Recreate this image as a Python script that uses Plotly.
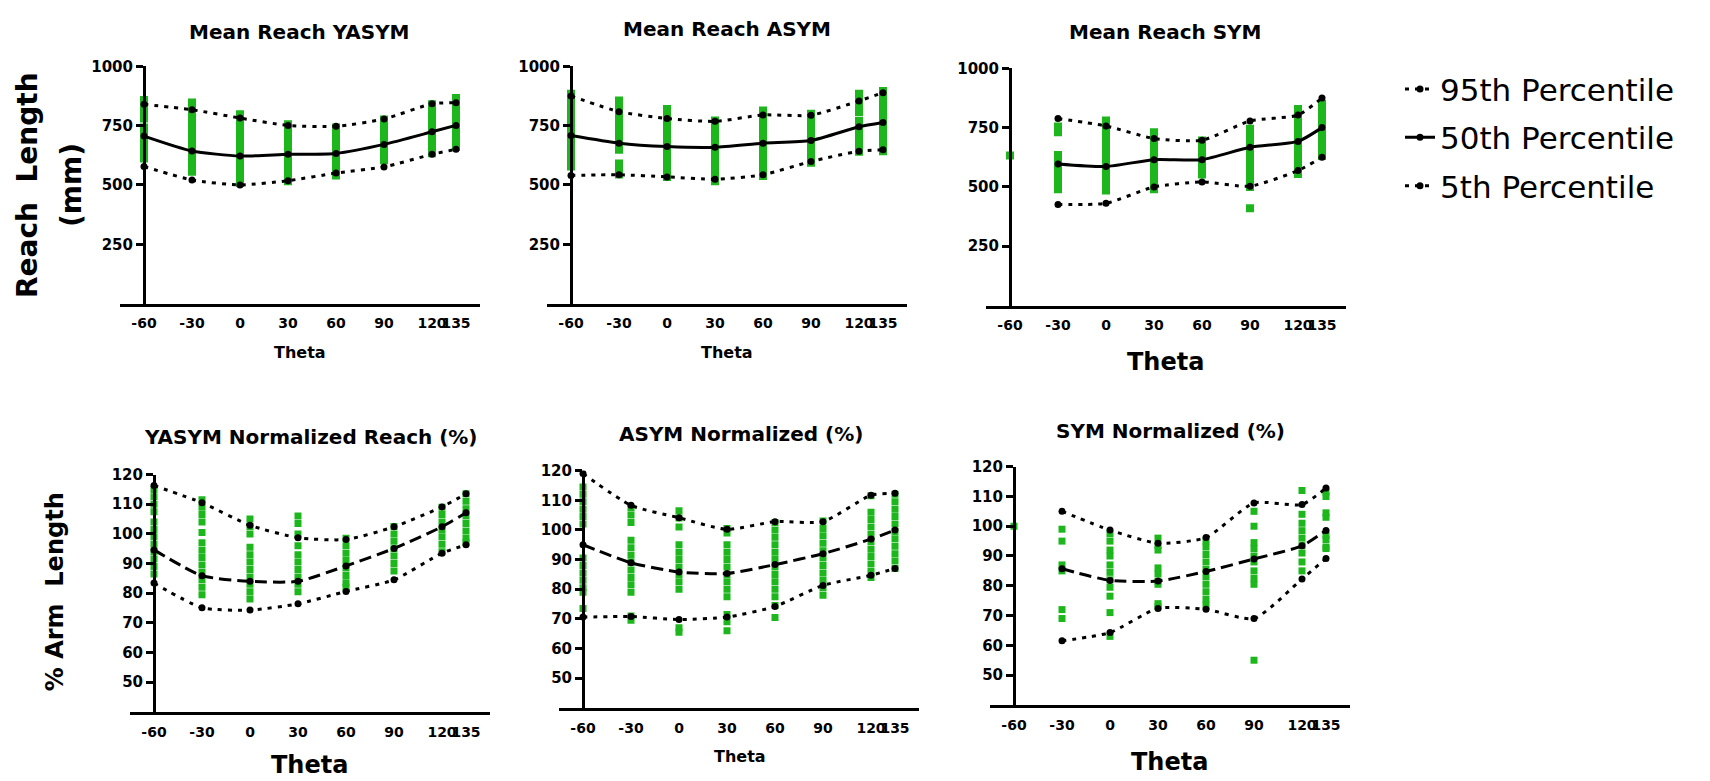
import plotly.graph_objects as go

W, H = 1710, 781

theta = [-60, -30, 0, 30, 60, 90, 120, 135]
theta_sym = [-30, 0, 30, 60, 90, 120, 135]
tick_labels = ["-60", "-30", "0", "30", "60", "90", "120", "135"]

# ---------- Mean reach (mm) ----------
yasym_p95 = [840, 817, 782, 751, 747, 778, 842, 847]
yasym_p50 = [706, 643, 622, 629, 633, 671, 724, 751]
yasym_p5 = [578, 521, 500, 518, 550, 576, 629, 650]

asym_p95 = [875, 809, 780, 768, 795, 794, 854, 889]
asym_p50 = [708, 676, 662, 659, 676, 687, 745, 763]
asym_p5 = [540, 543, 534, 524, 543, 599, 642, 648]

sym_p95 = [788, 757, 704, 697, 778, 803, 875]
sym_p50 = [597, 586, 615, 615, 667, 692, 750]
sym_p5 = [426, 431, 500, 521, 503, 569, 625]

yasym_pts = [
    [858, 832, 806, 780, 742, 716, 690, 664, 638, 612],
    [848, 822, 796, 770, 744, 712, 686, 660, 628, 602, 576, 556],
    [798, 772, 746, 716, 690, 664, 636, 610, 584, 558, 532, 508],
    [756, 730, 704, 676, 650, 624, 598, 572, 546, 516],
    [742, 716, 690, 664, 638, 612, 586, 560, 540],
    [776, 750, 724, 698, 672, 646, 620, 604],
    [840, 814, 788, 762, 736, 710, 684, 658, 634],
    [866, 840, 808, 788, 762, 736, 710, 684, 660],
]
asym_pts = [
    [884, 858, 832, 806, 780, 754, 728, 702, 676, 650, 624, 598, 578],
    [856, 830, 804, 778, 752, 726, 700, 674, 648, 590, 564, 544],
    [820, 794, 768, 742, 716, 690, 664, 638, 612, 586, 560, 534],
    [772, 746, 720, 694, 668, 642, 616, 590, 564, 538, 516],
    [814, 788, 762, 736, 710, 684, 658, 632, 606, 580, 554, 538],
    [800, 774, 748, 722, 696, 670, 644, 618, 594],
    [884, 858, 832, 806, 770, 744, 718, 692, 666, 640],
    [896, 870, 844, 818, 792, 766, 740, 714, 688, 662, 642],
]
sym_pts = [
    [632],
    [755, 730, 635, 610, 590, 565, 540, 515, 490],
    [780, 755, 730, 705, 680, 655, 630, 605, 580, 555, 530, 505, 485],
    [730, 705, 680, 655, 630, 605, 580, 555, 530, 505, 490],
    [696, 672, 648, 624, 600, 576, 552],
    [745, 720, 695, 670, 645, 620, 595, 570, 545, 520, 500, 410],
    [828, 803, 778, 753, 728, 703, 678, 653, 628, 603, 578, 555],
    [850, 825, 800, 775, 750, 725, 700, 675, 650, 630],
]

# ---------- Normalized reach (% arm length) ----------
yasym_n_p95 = [116.3, 110.5, 102.9, 98.7, 98.1, 102.4, 109.1, 113.5]
yasym_n_p50 = [94.6, 85.9, 84.0, 84.0, 89.2, 95.1, 102.4, 107.1]
yasym_n_p5 = [83.4, 75.1, 74.3, 76.4, 80.6, 84.5, 93.5, 96.3]

asym_n_p95 = [119.0, 108.3, 104.1, 100.2, 102.8, 102.8, 111.7, 112.4]
asym_n_p50 = [95.0, 88.9, 85.8, 85.3, 88.3, 92.0, 96.9, 100.0]
asym_n_p5 = [70.6, 70.8, 69.8, 70.6, 74.2, 81.3, 84.7, 87.0]

sym_n_p95 = [105.0, 98.7, 94.3, 96.2, 107.8, 107.3, 112.8]
sym_n_p50 = [85.7, 81.8, 81.6, 84.8, 89.0, 93.4, 98.6]
sym_n_p5 = [61.5, 64.3, 72.4, 72.1, 69.0, 82.3, 89.2]

yasym_n_pts = [
    [115, 112.5, 110, 107.5, 104, 101.5, 99, 96.5, 94, 91.5, 89, 86.5],
    [111.5, 109, 106.5, 104, 100.5, 97, 94.5, 92, 89.5, 87, 84.5, 82, 79.5],
    [105, 102.5, 100, 95.5, 93, 90.5, 88, 85.5, 83, 80.5, 78],
    [106, 103.5, 100, 96, 93, 90.5, 88, 85.5, 83, 80.5],
    [98.5, 96, 93.5, 91, 88.5, 86, 83.5, 82],
    [102.5, 100, 97.5, 95, 92.5, 90, 87.5],
    [109, 106.5, 104, 101.5, 99, 96.5, 94],
    [113.5, 111, 108.5, 106, 103.5, 101, 98.5, 97],
]
asym_n_pts = [
    [114.5, 112, 109.5, 107, 104.5, 102, 90.5, 88, 85.5, 83, 80.5, 79, 73.5],
    [107.5, 105, 102.5, 96.5, 94, 91.5, 89, 86.5, 84, 81.5, 79, 71, 69.5],
    [106.5, 104, 101, 95, 92.5, 90, 87.5, 85, 82.5, 80, 67, 65.5],
    [100.5, 99, 95, 92.5, 90, 87.5, 85, 82.5, 80, 77.5, 71.5, 69, 66],
    [102.5, 100, 97.5, 95, 92.5, 90, 87.5, 85, 82.5, 80, 77.5, 74.5, 70.5],
    [103, 100.5, 98, 95.5, 93, 90.5, 88, 85.5, 83, 80.5, 78],
    [111.5, 106, 103.5, 101, 98.5, 96, 93.5, 91, 88.5, 86, 84],
    [112, 109.5, 107, 104.5, 102, 99.5, 97, 94.5, 92, 89.5, 87],
]
sym_n_pts = [
    [100],
    [99, 95, 87, 85, 72, 69],
    [97.5, 95, 92, 90, 87, 84.5, 82, 79.5, 76.5, 71, 63],
    [96, 93.5, 92, 86, 84, 81.5, 80.5, 74, 73],
    [95, 93, 90.5, 88, 85.5, 83, 80.5, 78, 75.5, 73.5],
    [105, 100, 94.5, 92.5, 90, 88, 85, 82.5, 80.5, 55],
    [112, 104, 101, 98.5, 96, 93.5, 91, 88, 85],
    [111.5, 110, 104.5, 103, 97, 95.5, 93, 92.5],
]

panel_titles = ["Mean Reach YASYM", "Mean Reach ASYM", "Mean Reach SYM",
                "YASYM Normalized Reach (%)", "ASYM Normalized (%)", "SYM Normalized (%)"]
legend_names = ["95th Percentile", "50th Percentile", "5th Percentile"]

GREEN = "#1DB71D"
FONT = "DejaVu Sans"

# panel pixel boxes: (left, right, top, bottom)
boxes = [
    (120, 480, 58, 298),
    (547, 907, 58, 298),
    (986, 1346, 60, 300),
    (130, 490, 471, 711),
    (559, 919, 467, 707),
    (990, 1350, 463, 704),
]
XR = [-75, 150]

panels = [
    dict(pts=yasym_pts, th=theta, p=(yasym_p95, yasym_p50, yasym_p5), top=True),
    dict(pts=asym_pts, th=theta, p=(asym_p95, asym_p50, asym_p5), top=True),
    dict(pts=sym_pts, th=theta_sym, p=(sym_p95, sym_p50, sym_p5), top=True),
    dict(pts=yasym_n_pts, th=theta, p=(yasym_n_p95, yasym_n_p50, yasym_n_p5), top=False),
    dict(pts=asym_n_pts, th=theta, p=(asym_n_p95, asym_n_p50, asym_n_p5), top=False),
    dict(pts=sym_n_pts, th=theta_sym, p=(sym_n_p95, sym_n_p50, sym_n_p5), top=False),
]

fig = go.Figure()
layout = {}

for i, (pan, box) in enumerate(zip(panels, boxes)):
    n = i + 1
    xa = "x" if n == 1 else f"x{n}"
    ya = "y" if n == 1 else f"y{n}"
    # green individual points
    gx, gy = [], []
    for t, col in zip(theta, pan["pts"]):
        for v in col:
            gx.append(t)
            gy.append(v)
    fig.add_trace(go.Scatter(x=gx, y=gy, mode="markers", xaxis=xa, yaxis=ya,
                             marker=dict(symbol="square", size=8 if pan["top"] else 7,
                                         color=GREEN),
                             showlegend=False, hoverinfo="skip"))
    # percentile lines
    for k, vals in enumerate(pan["p"]):
        if k == 1:
            dash = "solid" if pan["top"] else "12px,6px"
        else:
            dash = "4px,6px"
        fig.add_trace(go.Scatter(
            x=pan["th"], y=vals, mode="lines+markers", xaxis=xa, yaxis=ya,
            line=dict(color="black", width=3, dash=dash, shape="spline", smoothing=0.6),
            marker=dict(symbol="circle", size=7, color="black"),
            name=legend_names[k], legendgroup=legend_names[k],
            showlegend=(n == 1)))

    l, r, t, b = box
    xd = [l / W, r / W]
    yd = [1 - b / H, 1 - t / H]
    yaxis_pos = (l + (theta[0] - XR[0]) * (r - l) / (XR[1] - XR[0])) / W
    layout["xaxis" if n == 1 else f"xaxis{n}"] = dict(
        domain=xd, range=XR, anchor=ya, showgrid=False, zeroline=False,
        showline=True, linecolor="black", linewidth=3,
        tickmode="array", tickvals=theta, ticktext=tick_labels, tickangle=0,
        ticks="outside", ticklen=5, tickcolor="rgba(0,0,0,0)",
        tickfont=dict(family=FONT, size=14, color="black", weight="bold"))
    if pan["top"]:
        yr, yt = [0, 1000], [250, 500, 750, 1000]
    else:
        yr, yt = [40, 120], [50, 60, 70, 80, 90, 100, 110, 120]
    layout["yaxis" if n == 1 else f"yaxis{n}"] = dict(
        domain=yd, range=yr, anchor="free", position=yaxis_pos,
        showgrid=False, zeroline=False, showline=True, linecolor="black", linewidth=3,
        tickmode="array", tickvals=yt, ticks="outside", ticklen=7, tickwidth=2.5,
        tickcolor="black",
        tickfont=dict(family=FONT, size=15, color="black", weight="bold"))

annots = []
title_pos = [(299, 23), (727, 20), (1165, 23), (311, 433), (741, 430), (1170, 427)]
for txt, (px, py) in zip(panel_titles, title_pos):
    annots.append(dict(text=txt, x=px / W, y=1 - py / H, xref="paper", yref="paper",
                       xanchor="center", yanchor="middle", showarrow=False,
                       font=dict(family=FONT, size=20, color="black", weight="bold")))
theta_pos = [(300, 348, 16), (727, 347, 16), (1165, 357, 24),
             (309, 765, 24), (740, 756, 16), (1169, 762, 24)]
for px, py, fs in theta_pos:
    annots.append(dict(text="Theta", x=px / W, y=1 - py / H, xref="paper", yref="paper",
                       xanchor="center", yanchor="middle", showarrow=False,
                       font=dict(family=FONT, size=fs, color="black", weight="bold")))
for txt, px, py, fs in [("Reach  Length", 28, 178, 28), ("(mm)", 72, 178, 28),
                        ("% Arm  Length", 55, 590, 24)]:
    annots.append(dict(text=txt, x=px / W, y=1 - py / H, xref="paper", yref="paper",
                       xanchor="center", yanchor="middle", showarrow=False, textangle=-90,
                       font=dict(family=FONT, size=fs, color="black", weight="bold")))

fig.update_layout(
    **layout,
    annotations=annots,
    width=W, height=H,
    margin=dict(l=0, r=0, t=0, b=0),
    paper_bgcolor="white", plot_bgcolor="white",
    showlegend=True,
    legend=dict(x=1400 / W, y=1 - 54 / H, xanchor="left", yanchor="top",
                font=dict(family=FONT, size=31, color="black"),
                bgcolor="rgba(0,0,0,0)", tracegroupgap=5, itemwidth=30),
)

fig.write_html("out.html")
